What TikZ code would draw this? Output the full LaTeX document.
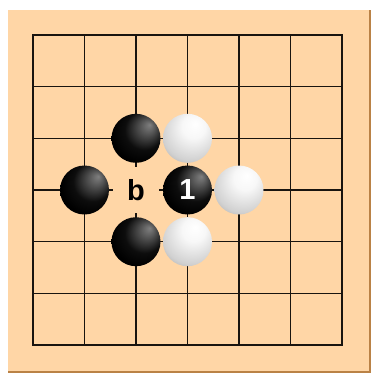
\documentclass[tikz,border=0pt]{standalone}
\usepackage{fontspec}
\setmainfont{Liberation Sans}
\definecolor{boardtan}{RGB}{255,214,166}
\definecolor{boardedge}{RGB}{186,130,70}
\definecolor{gridcol}{RGB}{25,20,15}
\pgfdeclareradialshading{blackstone}{\pgfqpoint{14bp}{14bp}}{%
  color(0bp)=(black!50); color(8bp)=(black!68); color(20bp)=(black!95); color(30bp)=(black); color(50bp)=(black)}
\pgfdeclareradialshading{whitestone}{\pgfqpoint{8bp}{15bp}}{%
  color(0bp)=(white); color(12bp)=(white!97!black); color(30bp)=(black!18); color(42bp)=(black!38); color(50bp)=(black!55); color(60bp)=(black!60)}
\tikzset{
  stonebase/.style={circle, minimum size=49pt, inner sep=0pt},
  bstone/.style={stonebase, shading=blackstone, text=white, font=\fontsize{29}{29}\selectfont\bfseries},
  wstone/.style={stonebase, shading=whitestone},
  marklabel/.style={circle, fill=boardtan, minimum size=46pt, inner sep=0pt, font=\fontsize{29}{29}\selectfont\bfseries, text=black},
  gridline/.style={draw=gridcol, line width=1.5pt},
}
\begin{document}
\begin{tikzpicture}[x=1pt,y=-1pt]
\useasboundingbox (0,0) rectangle (371,373);
\fill[white] (0,0) rectangle (371,373);
% board
\fill[boardedge] (8,10) rectangle (371,373);
\fill[boardtan] (8,10) rectangle (368.5,370.5);
% grid
\foreach \i in {0,...,6} {
  \draw[gridline] (33+51.5*\i,35) -- (33+51.5*\i,345);
  \draw[gridline] (33,35+51.67*\i) -- (342,35+51.67*\i);
}
\draw[gridline, line width=1.8pt] (33,35) rectangle (342,345);
% stones
\node[bstone] (b1) at (136,138.3) {};
\node[wstone] (w1) at (187.5,138.3) {};
\node[bstone] (b2) at (84.5,190) {};
\node[marklabel] (lb) at (136,190) {\raisebox{-1pt}{b}};
\node[bstone] (b3) at (187.5,190) {\raisebox{-1pt}{1}};
\node[wstone] (w2) at (239,190) {};
\node[bstone] (b4) at (136,241.7) {};
\node[wstone] (w3) at (187.5,241.7) {};
\end{tikzpicture}
\end{document}
